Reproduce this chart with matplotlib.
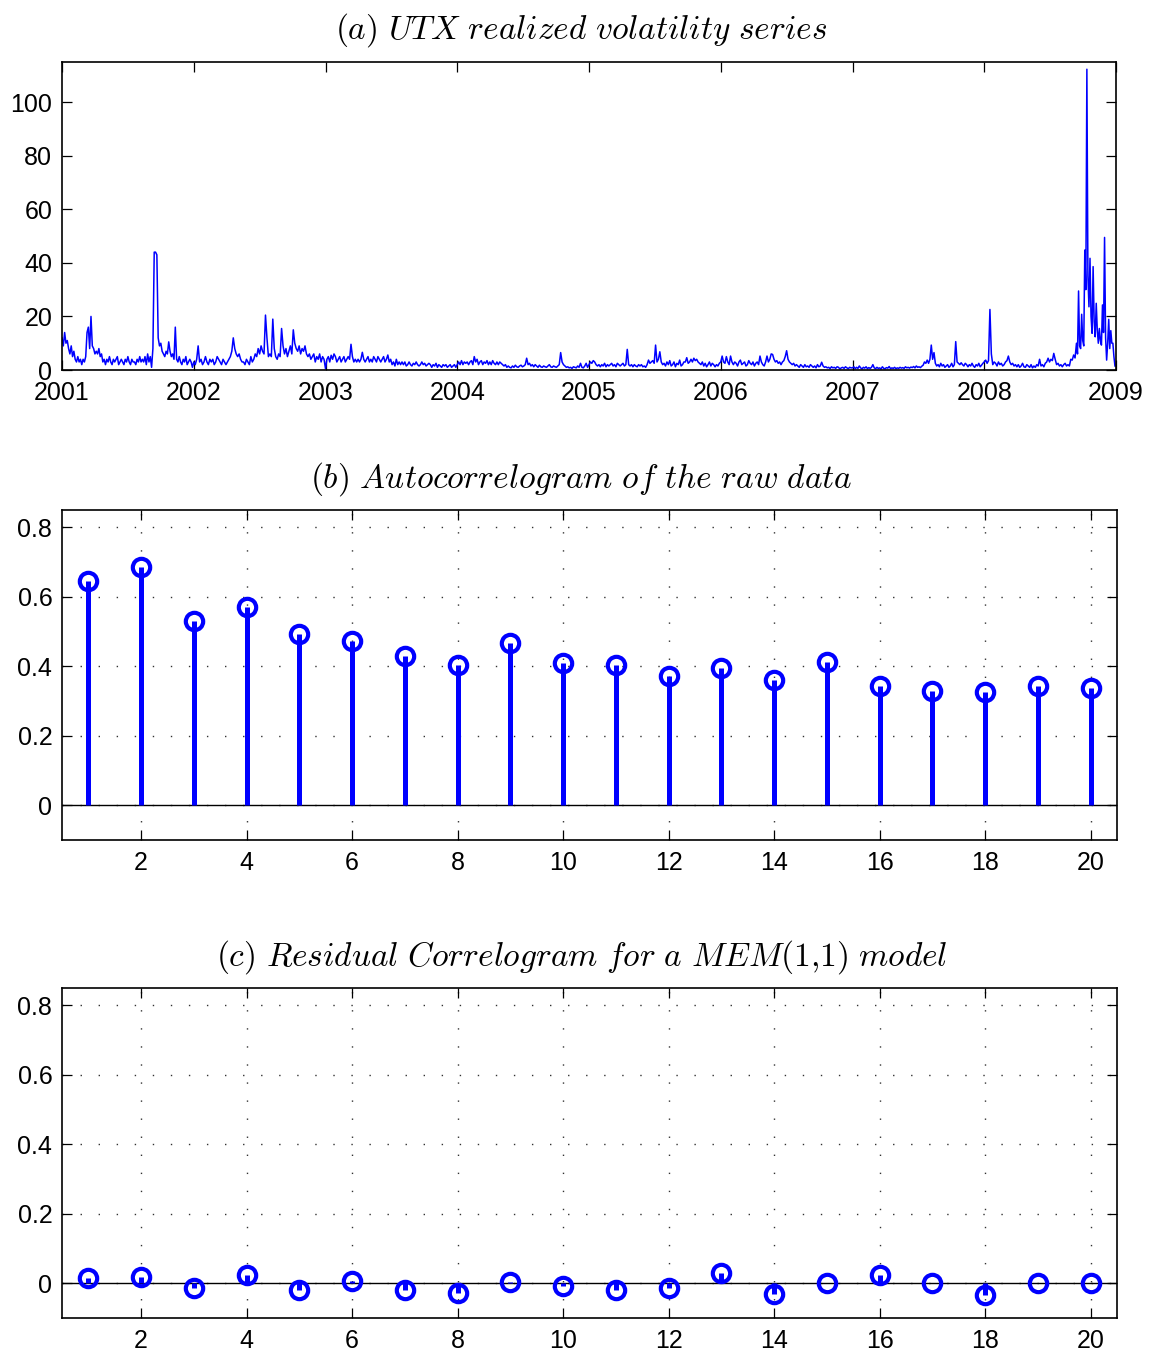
import numpy as np
import matplotlib
matplotlib.use('Agg')
import matplotlib.pyplot as plt

plt.rcParams['font.family'] = ['Liberation Sans', 'DejaVu Sans']
plt.rcParams['mathtext.fontset'] = 'cm'

# ---------------- (a) realized volatility ----------------
rv_2001 = [12, 9, 14, 10, 11, 8, 6, 9, 5, 7, 4, 3, 5, 3, 4, 2, 4, 3, 5, 14, 16, 8, 20, 9,
           8, 6, 7, 6, 8, 5, 6, 3, 4, 2, 4, 3, 5, 3, 2, 4, 3, 4, 5, 2, 3, 4, 3, 2, 4, 3,
           5, 3, 2, 4, 3, 3, 2, 4, 3, 5, 3, 4, 3, 5, 2, 6, 3, 5, 1, 8, 44, 44, 43, 12, 9,
           10, 7, 6, 5, 7, 6, 10.5, 7, 5, 6, 4, 16, 4, 3, 5, 3, 2, 4, 3, 5, 2, 3, 4, 3, 1]
rv_2002 = [3, 2, 4, 9, 3, 4, 2, 3, 5, 3, 2, 4, 3, 4, 2, 3, 5, 4, 3, 2, 4, 3, 2, 3, 4, 5,
           7, 12, 8, 6, 5, 6, 4, 3, 3, 2, 4, 3, 2, 5, 3, 4, 6, 5, 8, 6, 9, 7, 6, 20.5, 12,
           5, 6, 5, 19, 8, 5, 4, 6, 5, 15.5, 9, 6, 8, 5, 7, 9, 6, 15, 10, 8, 7, 9, 6, 8, 7,
           9, 6, 5, 6, 4, 5, 6, 3, 5, 4, 6, 3, 5, 4]
rv_2003 = [0.5, 4, 5, 3, 5.5, 4, 6, 5, 3, 4, 5, 3, 4, 5, 3, 4, 5, 4, 9.6, 5, 3, 4, 3, 4,
           3, 4, 6.6, 4, 3, 4, 5, 3, 4, 3, 5, 4, 3, 5, 4, 3, 4, 5, 3, 4, 5.6, 3, 4, 2, 3,
           1.5, 4, 2, 3, 2, 3, 2, 3, 1.5, 2, 3, 2, 1.5, 2.5, 2, 3, 2, 1.5, 2, 3, 2, 2.5, 1.5,
           2, 2.5, 2, 1, 2, 1.5, 2.5, 1, 2, 1.5, 1, 2, 1.5, 2, 1, 1.5, 2, 1, 1.5, 2, 1]
rv_2004 = [2, 3, 2, 3.5, 2, 3, 2.5, 3, 2, 3, 3.5, 2, 5, 3, 4, 2, 3, 3.5, 2, 3, 2.5, 3.5,
           2, 3, 2, 3.5, 2.5, 2, 3, 2, 3, 2.5, 2, 1.5, 2, 1, 1.5, 1, 0.8, 1.5, 1, 1.8, 1.2,
           1, 1.5, 1.8, 1.2, 1.5, 2, 4.4, 2, 2.5, 1.5, 2, 1.2, 2, 1.5, 1, 1.8, 1.2, 1, 1.5,
           1.2, 1, 1.5, 2, 1.2, 1, 1.5, 1.2, 1, 1.5, 2, 6.5, 3, 2, 1.5, 1, 1.2, 0.8, 1, 0.6,
           1.2, 1, 0.8, 1.5, 1, 2.5, 1, 0.8, 1.5, 2.5, 1]
rv_2005 = [2, 3, 2.5, 3.5, 3, 2, 1.5, 2, 1.2, 2, 1.5, 2.5, 1.2, 2, 1.5, 2, 2.5, 1.5, 2,
           1.2, 2.5, 2, 1.5, 2, 2.5, 1.5, 2, 7.7, 2, 1.5, 2, 1.2, 2, 1.5, 1.2, 2, 1.5, 2,
           1.2, 1.5, 1, 2, 3.7, 2.5, 3, 3.5, 2.5, 9.3, 3, 4, 6.8, 3, 2, 2.5, 1.5, 3, 2, 3.5,
           1.5, 2, 3, 1.2, 2.5, 2, 3.7, 1.5, 2, 3, 3, 4.6, 2.5, 3, 4, 3, 4.4, 3.5, 4, 3, 2.5,
           2, 3, 1.5, 2.5, 1.2, 2, 3, 1.5, 2.5, 2, 1.2, 2, 1.5, 2.5]
rv_2006 = [3, 5.2, 3, 2.5, 5, 3, 2, 5.2, 3, 2, 3, 2.5, 1.5, 3, 3.7, 2, 2.5, 3, 1.5, 2, 3.5,
           2.5, 2, 3, 1.5, 2.5, 3, 2, 5.2, 3, 2, 1.5, 3, 5.2, 3, 4, 6, 5.8, 4, 3, 3.5, 2.5,
           3, 2, 3, 3.5, 5, 7.2, 4, 3, 2.5, 2, 2.5, 1.5, 2, 1.5, 1, 2, 1.5, 1, 2, 1.2, 1.5,
           1, 2, 1.5, 1, 1.5, 0.8, 2, 1.2, 1.5, 2.9, 1.5, 1, 1.2, 0.8, 1, 0.5, 1.2, 0.8, 1,
           0.6, 1.2, 1, 0.4, 0.8, 1, 0.6, 1.2, 0.8, 0.5, 1, 0.8]
rv_2007 = [0.8, 1.2, 0.5, 1, 0.6, 1.5, 0.8, 0.4, 1, 0.7, 1.2, 0.5, 0.9, 0.6, 1, 2, 0.8, 0.5,
           1, 0.6, 0.8, 0.4, 1.2, 0.6, 0.5, 0.9, 0.7, 1.3, 0.5, 0.8, 0.6, 1, 0.5, 0.8, 0.6,
           1, 0.7, 0.9, 0.6, 1.2, 0.8, 1, 0.7, 1.1, 0.9, 1.3, 0.8, 1.5, 1, 1.2, 0.9, 1.4,
           1.8, 3, 2.5, 3.7, 2.5, 4, 9.3, 4, 6.5, 2.5, 1.5, 2, 1.2, 2.5, 1.5, 2, 1, 1.5, 2,
           1, 1.5, 2.5, 1.2, 2, 10.6, 3, 2.5, 2, 2.7, 2, 1.5, 2.5, 2, 1.2, 2, 1.5, 2.5, 1.5,
           1, 2, 1.5, 2.5, 1.2, 1.8, 2.5]
rv_2008a = [3, 3.7, 2.5, 3.5, 22.6, 6, 2, 3, 2.5, 1.5, 3, 2, 2.5, 1.5, 2, 3, 3.5, 5.2, 3,
            2, 2.5, 1.5, 2, 1.2, 2, 1, 1.5, 2.5, 1.2, 1, 2, 1.5, 1, 2, 0.8, 1.5, 1, 2, 1.5,
            4, 1.5, 2, 1.2, 2.5, 3, 4.4, 3, 4, 3.5, 6.2, 4, 2, 2.5, 1.5, 2, 1.2, 2, 2.5, 1.5,
            2, 1.5, 4, 3.7, 5.6, 4.5]
rv_2008b = [10, 6, 29.5, 9, 8, 20.8, 11, 9, 44.8, 30, 112.3, 35, 23.6, 41.7, 20, 13.7, 38.6,
            18, 12.4, 24.9, 15, 10, 15.5, 11, 9.3, 24.3, 14, 49.5, 12, 3.7, 10, 18.9, 8, 14.7,
            10, 10, 5, 1.5]
segment_edges = [2001.0, 2002.0, 2003.0, 2004.0, 2005.0, 2006.0, 2007.0, 2008.0, 2008.70, 2009.0]
year_ticks = [2001, 2002, 2003, 2004, 2005, 2006, 2007, 2008, 2009]
rv_ticks = [0, 20, 40, 60, 80, 100]

# ---------------- (b), (c) correlograms ----------------
lags = list(range(1, 21))
acf_raw = [0.645, 0.685, 0.530, 0.570, 0.492, 0.472, 0.429, 0.403, 0.466, 0.409,
           0.403, 0.371, 0.394, 0.360, 0.411, 0.342, 0.328, 0.325, 0.342, 0.337]
acf_resid = [0.014, 0.017, -0.014, 0.023, -0.020, 0.006, -0.020, -0.029, 0.003, -0.009,
             -0.020, -0.014, 0.029, -0.032, 0.000, 0.023, 0.000, -0.035, 0.000, 0.000]
lag_ticks = [2, 4, 6, 8, 10, 12, 14, 16, 18, 20]
acf_ticks = [0, 0.2, 0.4, 0.6, 0.8]
acf_ticklabels = ['0', '0.2', '0.4', '0.6', '0.8']

segments = [rv_2001, rv_2002, rv_2003, rv_2004, rv_2005, rv_2006, rv_2007, rv_2008a, rv_2008b]
xs, ys = [], []
for seg, a, b in zip(segments, segment_edges[:-1], segment_edges[1:]):
    xs.append(np.linspace(a, b, len(seg), endpoint=False))
    ys.append(np.asarray(seg, dtype=float))
x_rv = np.concatenate(xs)
y_rv = np.concatenate(ys)

W, H = 1151, 1352
fig = plt.figure(figsize=(W / 100, H / 100), dpi=100)

def rect(l, t, r, b):
    return [l / W, 1 - b / H, (r - l) / W, (b - t) / H]

TFS = 24
LFS = 18
TX = 0.4925

def style_axes(ax, pad=7):
    for s in ax.spines.values():
        s.set_linewidth(1.2)
    ax.tick_params(direction='in', length=7, width=0.9, top=True, right=True,
                   labelsize=LFS, pad=pad)

# (a)
ax1 = fig.add_axes(rect(62, 62, 1116, 370))
ax1.plot(x_rv, y_rv, color='#0000ff', lw=1.1)
ax1.set_xlim(2001, 2009)
ax1.set_ylim(0, 115)
ax1.set_xticks(year_ticks)
ax1.set_yticks(rv_ticks)
style_axes(ax1, pad=7)
ax1.tick_params(axis='x', pad=8)
ax1.set_title(r'$\mathit{(a)\ UTX\ realized\ volatility\ series}$', fontsize=TFS, pad=17, x=TX)

def correlogram(ax, vals, title):
    ax.set_xlim(0.5, 20.5)
    ax.set_ylim(-0.1, 0.85)
    ax.set_xticks(lag_ticks)
    ax.set_yticks(acf_ticks)
    ax.set_yticklabels(acf_ticklabels)
    ax.grid(True, color='0.2', linestyle=(0, (1, 12)), linewidth=1.0)
    ax.set_axisbelow(True)
    ax.axhline(0, color='k', lw=1.0, zorder=2)
    ax.vlines(lags, 0, vals, color='#0000ff', lw=3.6, zorder=3)
    ax.plot(lags, vals, 'o', ms=12.5, mfc='none', mec='#0000ff', mew=3.0, zorder=4)
    style_axes(ax)
    ax.tick_params(axis='x', pad=8)
    ax.set_title(title, fontsize=TFS, pad=16, x=TX)

ax2 = fig.add_axes(rect(62, 510, 1117, 840))
correlogram(ax2, acf_raw, r'$\mathit{(b)\ Autocorrelogram\ of\ the\ raw\ data}$')

ax3 = fig.add_axes(rect(62, 988, 1117, 1318))
correlogram(ax3, acf_resid, r'$\mathit{(c)\ Residual\ Correlogram\ for\ a\ MEM(1{,}1)\ model}$')

fig.savefig('out.png', dpi=100)
